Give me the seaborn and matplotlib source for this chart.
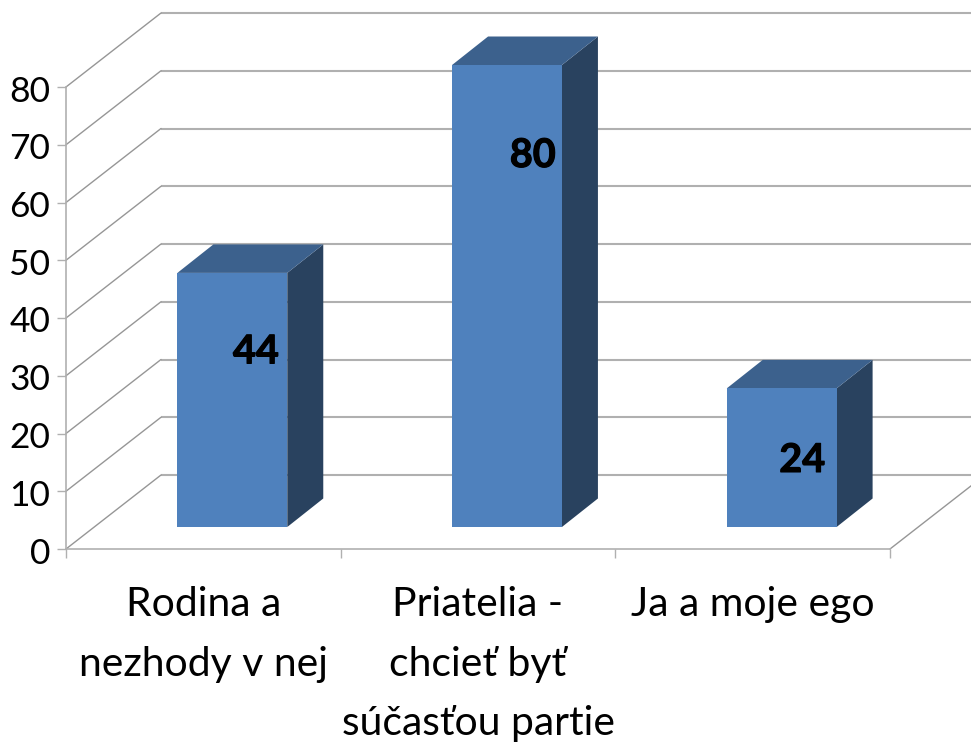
import matplotlib
matplotlib.use("Agg")
import matplotlib.pyplot as plt
from matplotlib.patches import Polygon
from matplotlib.transforms import Affine2D, IdentityTransform
import matplotlib.patheffects as pe
import seaborn as sns
import pandas as pd

categories = ["Rodina a\nnezhody v nej", "Priatelia -\nchcieť byť\nsúčasťou partie", "Ja a moje ego"]
values = [44, 80, 24]
y_ticks = [0, 10, 20, 30, 40, 50, 60, 70, 80]

W, H = 971, 743
sns.set_theme(style="white")
plt.rcParams["font.family"] = ["Lato", "DejaVu Sans"]

FRONT = "#4F81BD"
SIDE = "#29425F"
TOP = "#3C618D"
WALL = "#B0B0B0"
SLANT = "#969696"


def rect(left, right, top, bottom):
    return [left / W, 1 - bottom / H, (right - left) / W, (bottom - top) / H]


fig = plt.figure(figsize=(W / 100, H / 100), dpi=100, facecolor="white")
ax = fig.add_axes(rect(66, 890, 87, 549))
ax.patch.set_alpha(0)
ax.set_xlim(0, 3)
ax.set_ylim(0, 80)

# back wall and its connectors to the front plane
wall_dx, wall_dy = 95, 74
shift = ax.transData + Affine2D().translate(wall_dx, wall_dy)
ax.hlines(y_ticks, 0, 3, color=WALL, lw=1.5, transform=shift, clip_on=False, zorder=1)
for v in y_ticks:
    x0, y0 = ax.transData.transform((0, v))
    ax.plot([x0, x0 + wall_dx], [y0, y0 + wall_dy], color=SLANT, lw=1,
            transform=IdentityTransform(), clip_on=False, zorder=1)
x0, y0 = ax.transData.transform((3, 0))
ax.plot([x0, x0 + wall_dx], [y0, y0 + wall_dy], color=SLANT, lw=1,
        transform=IdentityTransform(), clip_on=False, zorder=1)

ax.set_yticks(y_ticks)
ax.set_xticks([0, 1, 2, 3])
ax.set_xticklabels([])
ax.set_xticks([0.5, 1.5, 2.5], labels=categories, minor=True, linespacing=1.76, va="top")
ax.tick_params(axis="both", which="major", length=6.5, width=1, color=WALL,
               bottom=True, left=True)
ax.tick_params(axis="y", labelsize=25.5, pad=5, labelcolor="black")
ax.tick_params(axis="x", which="minor", length=0, labelsize=29.4, pad=26.5, labelcolor="black")
for lab in ax.get_yticklabels():
    lab.set_transform(lab.get_transform() + Affine2D().translate(0, -1.5))
sns.despine(ax=ax)
for side in ("left", "bottom"):
    ax.spines[side].set_color(WALL)
    ax.spines[side].set_linewidth(1.2)

# bars stand inside the box, offset from the front plane
bx = fig.add_axes(rect(66 + 29, 890 + 29, 87 - 22, 549 - 22))
bx.patch.set_alpha(0)
df = pd.DataFrame({"cat": categories, "val": values})
sns.barplot(data=df, x="cat", y="val", color=FRONT, saturation=1, width=0.4, ax=bx)
bx.set_xlim(-0.5, 2.5)
bx.set_ylim(0, 80)
bx.axis("off")

depth_dx, depth_dy = 36, 28.5
for p in list(bx.patches):
    p.set_linewidth(0)
    p.set_zorder(3)
    xl, w, h = p.get_x(), p.get_width(), p.get_height()
    (lx, by) = bx.transData.transform((xl, 0))
    (rx, ty) = bx.transData.transform((xl + w, h))
    bx.add_patch(Polygon([(rx, by), (rx + depth_dx, by + depth_dy),
                          (rx + depth_dx, ty + depth_dy), (rx, ty)],
                         closed=True, facecolor=SIDE, edgecolor="none",
                         transform=IdentityTransform(), clip_on=False, zorder=2))
    bx.add_patch(Polygon([(lx, ty), (rx, ty), (rx + depth_dx, ty + depth_dy),
                          (lx + depth_dx, ty + depth_dy)],
                         closed=True, facecolor=TOP, edgecolor="none",
                         transform=IdentityTransform(), clip_on=False, zorder=2))

# data labels: placed at a share of each bar's height, right of its centre
label_share = (0.689, 0.804, 0.48)
label_right = (0.086, 0.094, 0.075)
for i, (v, s, r) in enumerate(zip(values, label_share, label_right)):
    bx.text(i + r, v * s, str(v), ha="center", va="center", fontsize=28.5,
            fontweight="bold", color="black", zorder=5,
            path_effects=[pe.withStroke(linewidth=0.8, foreground="black")])

fig.savefig("out.png", dpi=100)
